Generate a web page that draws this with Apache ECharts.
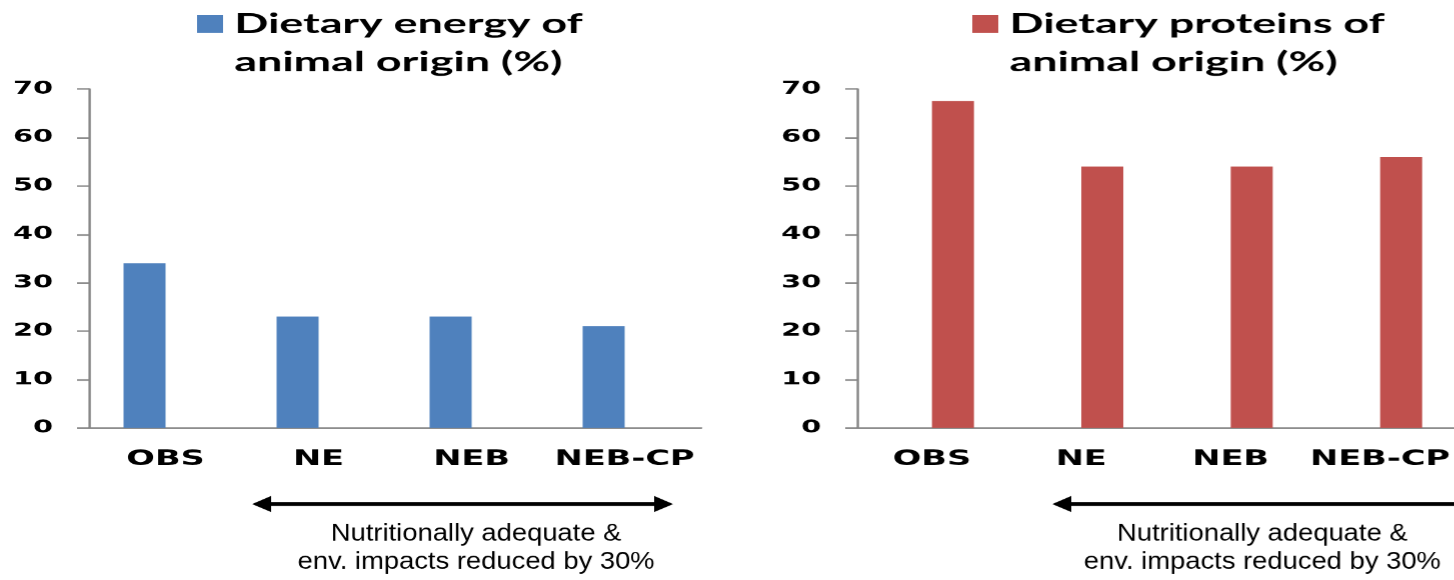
<!DOCTYPE html>
<html>
<head>
<meta charset="utf-8">
<script src="https://cdn.jsdelivr.net/npm/echarts@6/dist/echarts.min.js"></script>
<style>
  html, body { margin: 0; padding: 0; background: #fff; }
  #wrap { width: 1454px; height: 580px; overflow: hidden; position: relative; }
  /* The chart is laid out narrow and stretched sideways, which gives its
     lettering the wide, extended look of the panels. */
  #chart { width: 909px; height: 580px; transform: scaleX(1.6); transform-origin: 0 0; }
</style>
</head>
<body>
<div id="wrap"><div id="chart"></div></div>
<script>
// Scenarios
const categories = ['OBS', 'NE', 'NEB', 'NEB-CP'];
// Share of dietary energy of animal origin (%)
const energyAnimal = [34, 23, 23, 21];
// Share of dietary proteins of animal origin (%)
const proteinAnimal = [67.5, 54, 54, 56];
// Y axis range and step
const yTicks = { min: 0, max: 70, step: 10 };

const energyName = 'Dietary energy of animal origin (%)';
const proteinName = 'Dietary proteins of animal origin (%)';
const rangeNote = ['Nutritionally adequate &', 'env. impacts reduced by 30%'];

const S = 1.6;                 // horizontal stretch of the chart box
const sx = px => px / S;       // screen x -> chart x
const BLUE = '#4F81BD';
const RED = '#C0504D';
const AXIS = '#868686';

const chart = echarts.init(document.getElementById('chart'), null, {
  renderer: 'canvas', devicePixelRatio: S
});

const panelW = sx(612);
const grids = [
  { left: sx(89), top: 89, width: panelW, height: 339 },
  { left: sx(857), top: 89, width: panelW, height: 339 }
];

const xAxisBase = {
  type: 'category',
  data: categories,
  axisLine: { lineStyle: { color: AXIS, width: 1.5 } },
  axisTick: { length: 6, lineStyle: { color: AXIS, width: 1.5 } },
  axisLabel: {
    color: '#000', fontFamily: 'DejaVu Sans', fontWeight: 'bold',
    fontSize: 21, margin: 21, interval: 0
  }
};
const yAxisBase = {
  type: 'value',
  min: yTicks.min, max: yTicks.max, interval: yTicks.step,
  splitLine: { show: false },
  axisLine: { show: true, lineStyle: { color: AXIS, width: 1.5 } },
  axisTick: { show: true, length: sx(12), lineStyle: { color: AXIS, width: 1.5 } },
  axisLabel: {
    color: '#000', fontFamily: 'DejaVu Sans', fontWeight: 'bold',
    fontSize: 18, margin: sx(36)
  }
};

const barW = sx(42);
// Two-line legend label. A leading blank line puts the first printed line
// level with the swatch (legend text is centred on the swatch).
const LEG_LH = 38;
const legendText = {
  color: '#000', fontFamily: 'Lato', fontWeight: 'bold', fontSize: 28,
  lineHeight: LEG_LH, padding: [0, 0, 0, 2]
};
const legendTop = 15 - (1.5 * LEG_LH - 9);
const twoLines = name => '\n' + name.replace(' animal', '\nanimal');

// Arrows under the panels
function arrow(x1, x2, y, leftHead, rightHead) {
  const head = 19, half = 8;
  const els = [{
    type: 'line',
    shape: { x1: sx(x1 + (leftHead ? head - 2 : 0)), y1: y, x2: sx(x2 - (rightHead ? head - 2 : 0)), y2: y },
    style: { stroke: '#000', lineWidth: 4 }
  }];
  if (leftHead) els.push({
    type: 'polygon',
    shape: { points: [[sx(x1), y], [sx(x1 + head), y - half], [sx(x1 + head), y + half]] },
    style: { fill: '#000' }
  });
  if (rightHead) els.push({
    type: 'polygon',
    shape: { points: [[sx(x2), y], [sx(x2 - head), y - half], [sx(x2 - head), y + half]] },
    style: { fill: '#000' }
  });
  return els;
}
function note(cx, y, text) {
  return {
    type: 'text', x: sx(cx), y: y, scaleX: 1.14 / S,
    style: {
      text: text, fill: '#000', font: '24px "Liberation Sans", Arial, sans-serif',
      align: 'center', verticalAlign: 'middle',
      textAlign: 'center', textVerticalAlign: 'middle'
    }
  };
}

chart.setOption({
  animation: false,
  backgroundColor: '#fff',
  grid: grids,
  legend: [
    {
      data: [energyName], left: sx(197), top: legendTop, padding: 0, icon: 'rect',
      itemWidth: sx(26), itemHeight: 18, formatter: twoLines, textStyle: legendText,
      selectedMode: false
    },
    {
      data: [proteinName], left: sx(972), top: legendTop, padding: 0, icon: 'rect',
      itemWidth: sx(26), itemHeight: 18, formatter: twoLines, textStyle: legendText,
      selectedMode: false
    }
  ],
  xAxis: [
    Object.assign({ gridIndex: 0 }, xAxisBase),
    Object.assign({ gridIndex: 1 }, xAxisBase)
  ],
  yAxis: [
    Object.assign({ gridIndex: 0 }, yAxisBase),
    Object.assign({ gridIndex: 1 }, yAxisBase)
  ],
  series: [
    // Left panel: energy bar sits in the first slot of each category
    { type: 'bar', name: energyName, xAxisIndex: 0, yAxisIndex: 0, data: energyAnimal,
      barWidth: barW, barGap: '0%', itemStyle: { color: BLUE } },
    { type: 'bar', name: proteinName, xAxisIndex: 0, yAxisIndex: 0, data: [],
      barWidth: barW, barGap: '0%', itemStyle: { color: RED } },
    // Right panel: protein bar sits in the second slot
    { type: 'bar', name: energyName, xAxisIndex: 1, yAxisIndex: 1, data: [],
      barWidth: barW, barGap: '0%', itemStyle: { color: BLUE } },
    { type: 'bar', name: proteinName, xAxisIndex: 1, yAxisIndex: 1, data: proteinAnimal,
      barWidth: barW, barGap: '0%', itemStyle: { color: RED } }
  ],
  graphic: [
    ...arrow(252, 673, 504, true, true),
    ...arrow(1052, 1500, 504, true, false),
    note(476, 534, rangeNote[0]),
    note(476, 562, rangeNote[1]),
    note(1262, 534, rangeNote[0]),
    note(1262, 562, rangeNote[1])
  ]
});
</script>
</body>
</html>
